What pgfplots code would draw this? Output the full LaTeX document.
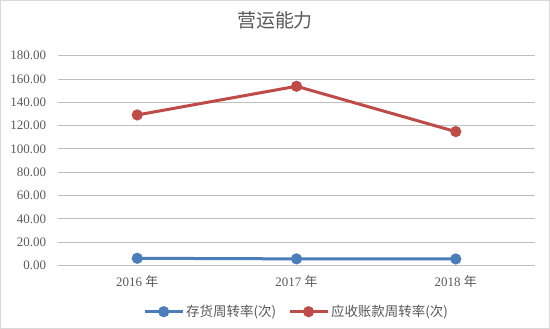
\documentclass[border=0pt]{standalone}
\usepackage{pgfplots}
\pgfplotsset{compat=1.18}
\usepackage{fontspec}
\setmainfont{Liberation Serif}
\newfontfamily\cjk{Noto Sans CJK SC}
\definecolor{txt}{HTML}{595959}
\definecolor{grid}{HTML}{D9D9D9}
\definecolor{blueS}{HTML}{4A7EBB}
\definecolor{redS}{HTML}{BE4B48}
\begin{document}
\begin{tikzpicture}[x=1bp,y=1bp]
\draw[grid, line width=0.8bp, fill=white] (0.5,0.5) rectangle (549.5,328.5);
\node[txt, font=\cjk\fontsize{19}{22}\selectfont] at (275,309) {营运能力};
\begin{axis}[
  at={(57.7bp,63.6bp)}, anchor=south west,
  scale only axis, width=477.6bp, height=209.7bp,
  xmin=-0.5, xmax=2.5, ymin=0, ymax=180,
  xtick={0,1,2}, xticklabels={2016 {\cjk 年},2017 {\cjk 年},2018 {\cjk 年}},
  ytick={0,20,...,180},
  yticklabel style={/pgf/number format/fixed, /pgf/number format/fixed zerofill, /pgf/number format/precision=2, xshift=-8bp},
  /pgf/number format/assume math mode=true,
  ticklabel style={font=\fontsize{13}{15}\selectfont, text=txt},
  xmajorgrids=false, ymajorgrids=true, grid style={grid, line width=0.8bp},
  axis line style={draw=none},
  tick style={draw=none},
  major tick length=0pt,
  xticklabel style={yshift=-7bp},
  clip=false,
  legend style={at={(0.5,-0.17)}, anchor=north, draw=none, fill=none,
    legend columns=2, font=\cjk\fontsize{13.5}{16}\selectfont, text=txt,
    /tikz/every even column/.append style={column sep=10bp}},
  legend image code/.code={
    \draw[#1, mark repeat=2, mark phase=2] plot coordinates {(0bp,0bp) (19bp,0bp) (38bp,0bp)};
  },
]
\addplot[blueS, line width=3bp, mark=*, mark size=4bp, mark options={solid, fill=blueS, draw=blueS}]
  coordinates {(0,6.1) (1,5.6) (2,5.5)};
\addlegendentry{存货周转率(次)}
\addplot[redS, line width=3bp, mark=*, mark size=4bp, mark options={solid, fill=redS, draw=redS}]
  coordinates {(0,129.1) (1,153.7) (2,114.8)};
\addlegendentry{应收账款周转率(次)}
\end{axis}
\end{tikzpicture}
\end{document}
